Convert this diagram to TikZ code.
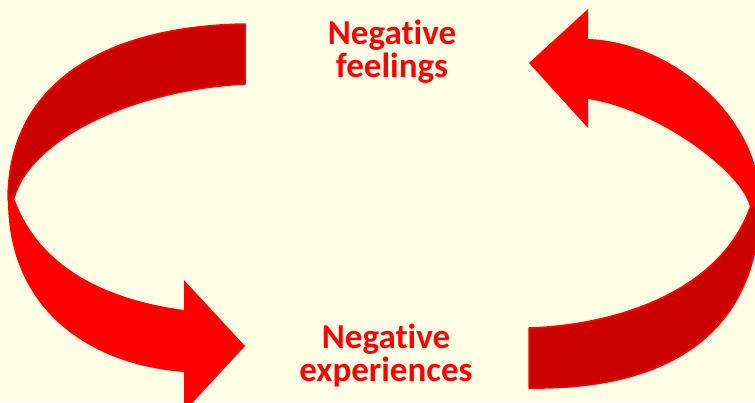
\documentclass[tikz,border=0pt]{standalone}
\usepackage{fontspec}
\newfontfamily\calfont{Carlito}[Ligatures=NoCommon]
\usepackage{tikz}
\usetikzlibrary{positioning}

\definecolor{paper}{RGB}{255,255,230}
\definecolor{arrowred}{RGB}{255,0,0}
\definecolor{darkred}{RGB}{204,0,0}

\tikzset{
  backface/.style={fill=darkred, draw=arrowred, line width=1.5pt, line join=round},
  frontface/.style={fill=arrowred},
  cyclelabel/.style={text=arrowred, align=center, inner sep=0pt,
    font=\calfont\bfseries\fontsize{35}{33}\selectfont}
}

\begin{document}
\begin{tikzpicture}[x=1pt, y=-1pt]
\useasboundingbox (0,0) rectangle (755,402);
\fill[paper] (0,0) rectangle (755,402);
\clip (0,0) rectangle (755,402);

% left arrow: back face (upper part)
\path[backface] (245,24) -- (245,84) .. controls (130,90) and (30,140) .. (14,198)
  -- (8,200) .. controls (8,80) and (110,26) .. (245,24) -- cycle;
% left arrow: front face with head
\path[frontface] (8,200) .. controls (8,310) and (90,365) .. (184,372)
  -- (184,412) -- (245,346) -- (184,280) -- (184,310)
  .. controls (110,300) and (40,270) .. (14,198) -- cycle;

% right arrow: back face (lower part)
\path[backface] (750,208) .. controls (720,290) and (620,325) .. (529,328)
  -- (529,388) .. controls (660,390) and (760,340) .. (760,200) -- cycle;
% right arrow: front face with head
\path[frontface] (588,39) .. controls (675,42) and (760,120) .. (760,200)
  -- (750,208) .. controls (745,175) and (660,110) .. (588,99)
  -- (588,128) -- (529,63) -- (588,9) -- cycle;

% labels
\node[cyclelabel] (feelings) at (392,52) {Negative\\feelings};
\node[cyclelabel] (experiences) at (386,355) {Negative\\experiences};
\end{tikzpicture}
\end{document}
